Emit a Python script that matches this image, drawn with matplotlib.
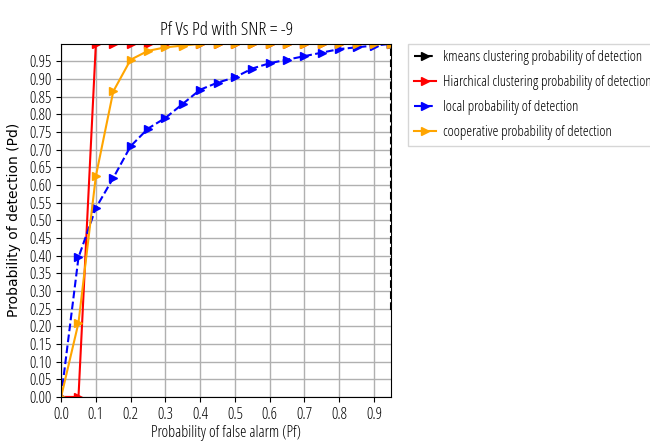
import numpy as np
import matplotlib.pyplot as plt

plt.rcParams['font.family'] = ['Open Sans', 'DejaVu Sans']
plt.rcParams['font.stretch'] = 'condensed'

# data
pf = [0.0, 0.05, 0.1, 0.15, 0.2, 0.25, 0.3, 0.35, 0.4, 0.45,
      0.5, 0.55, 0.6, 0.65, 0.7, 0.75, 0.8, 0.85, 0.9, 0.95]

pd_local = [0.0, 0.395, 0.535, 0.62, 0.71, 0.76, 0.79, 0.83, 0.87, 0.89,
            0.905, 0.93, 0.945, 0.955, 0.965, 0.975, 0.985, 0.99, 0.995, 1.0]
pd_coop = [0.0, 0.21, 0.625, 0.865, 0.955, 0.98, 0.99, 0.995, 1.0, 1.0,
           1.0, 1.0, 1.0, 1.0, 1.0, 1.0, 1.0, 1.0, 1.0, 1.0]
pd_hier = [0.0, 0.0, 1.0, 1.0, 1.0, 1.0, 1.0, 1.0, 1.0, 1.0,
           1.0, 1.0, 1.0, 1.0, 1.0, 1.0, 1.0, 1.0, 1.0, 1.0]
pf_kmeans = [0.95, 0.95]
pd_kmeans = [0.245, 1.0]

x_ticks = [0.0, 0.1, 0.2, 0.3, 0.4, 0.5, 0.6, 0.7, 0.8, 0.9]
y_ticks = [round(0.05 * i, 2) for i in range(20)]

fig = plt.figure(figsize=(6.5, 4.47), dpi=100)
ax = fig.add_axes([0.094, 0.112, 0.508, 0.79])

ax.plot(pf_kmeans, pd_kmeans, color='black', ls='--', marker='>', markersize=6, lw=1.5,
        markevery=[1], label="kmeans clustering probability of detection")
ax.plot(pf, pd_hier, color='red', marker='>', markersize=6, lw=1.5,
        label="Hiarchical clustering probability of detection")
ax.plot(pf, pd_local, color='blue', ls='--', marker='>', markersize=6, lw=1.5,
        label="local probability of detection")
ax.plot(pf, pd_coop, color='orange', marker='>', markersize=6, lw=1.5,
        label="cooperative probability of detection")

ax.set_xlim(0, 0.95)
ax.set_ylim(0, 1.0)
ax.set_xticks(x_ticks)
ax.set_yticks(y_ticks)
ax.set_xticklabels([f"{v:.1f}" for v in x_ticks], fontsize=11.5)
ax.set_yticklabels([f"{v:.2f}" for v in y_ticks], fontsize=11.5)
ax.grid(True, color='#b0b0b0', lw=1)

ax.set_xlabel("Probability of false alarm (Pf)", fontsize=11.5, labelpad=2)
ax.set_ylabel("Probability of detection (Pd)", fontsize=10,
              family='DejaVu Sans', stretch='normal', labelpad=6)
ax.set_title("Pf Vs Pd with SNR = -9", fontsize=13.5)

ax.legend(loc='upper left', bbox_to_anchor=(1.05, 1.0), fontsize=10.7,
          handlelength=1.5, handletextpad=0.5, labelspacing=0.68,
          fancybox=False, borderaxespad=0)

fig.savefig("out.png", dpi=100)
